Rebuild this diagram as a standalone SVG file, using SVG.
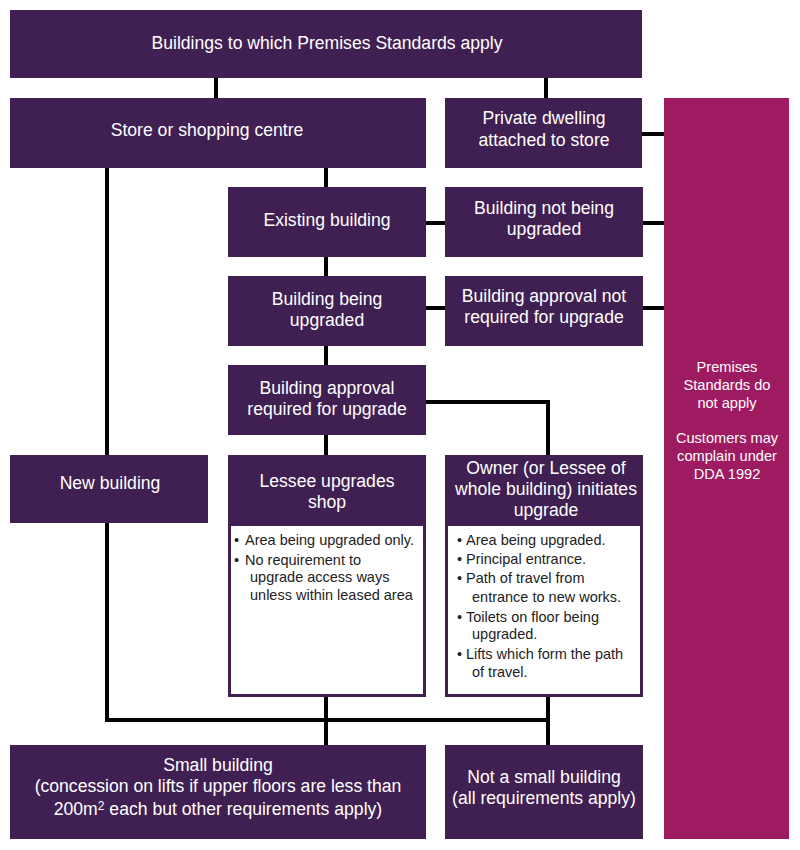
<svg xmlns="http://www.w3.org/2000/svg" width="800" height="850" viewBox="0 0 800 850">
<style>
.n{fill:#401f53}
.m{fill:#9e1b61}
.t{font-family:"Liberation Sans",Arial,sans-serif;font-size:17.6px;fill:#fff;text-anchor:middle}
.s{font-family:"Liberation Sans",Arial,sans-serif;font-size:14.6px;fill:#fff;text-anchor:middle}
.b{font-family:"Liberation Sans",Arial,sans-serif;font-size:14.5px;fill:#222}
.c{fill:none;stroke:#000;stroke-width:4}
</style>
<rect width="800" height="850" fill="#fff"/>
<g id="connectors">
<path class="c" d="M216 78V98M546 78V98M642 134H664M326 167V187M426 223H445M642 223H664M326 257V276M426 308H445M642 308H664M326 346V365M426 402H548V455M326 435V455M107 167V720H548M326 697V745M548 697V745"/>
</g>
<g id="top"><rect class="n" x="10" y="10" width="632" height="68"/><text class="t" x="327" y="49">Buildings to which Premises Standards apply</text></g>
<g id="store"><rect class="n" x="10" y="98" width="416" height="70"/><text class="t" x="207" y="136">Store or shopping centre</text></g>
<g id="private"><rect class="n" x="445" y="98" width="197" height="70"/><text class="t" x="544" y="124">Private dwelling</text><text class="t" x="544" y="146">attached to store</text></g>
<g id="notapply"><rect class="m" x="664" y="98" width="125" height="741"/>
<text class="s" x="727" y="372">Premises</text><text class="s" x="727" y="390">Standards do</text><text class="s" x="727" y="408">not apply</text>
<text class="s" x="727" y="443">Customers may</text><text class="s" x="727" y="461">complain under</text><text class="s" x="727" y="479">DDA 1992</text></g>
<g id="existing"><rect class="n" x="228" y="187" width="198" height="70"/><text class="t" x="327" y="226">Existing building</text></g>
<g id="notupgraded"><rect class="n" x="445" y="187" width="198" height="70"/><text class="t" x="544" y="214">Building not being</text><text class="t" x="544" y="235">upgraded</text></g>
<g id="upgraded"><rect class="n" x="228" y="276" width="198" height="70"/><text class="t" x="327" y="305">Building being</text><text class="t" x="327" y="326">upgraded</text></g>
<g id="approvalnot"><rect class="n" x="445" y="276" width="198" height="70"/><text class="t" x="544" y="302">Building approval not</text><text class="t" x="544" y="323">required for upgrade</text></g>
<g id="approval"><rect class="n" x="228" y="365" width="198" height="70"/><text class="t" x="327" y="394">Building approval</text><text class="t" x="327" y="415">required for upgrade</text></g>
<g id="newbuilding"><rect class="n" x="10" y="455" width="198" height="68"/><text class="t" x="110" y="489">New building</text></g>
<g id="lessee"><rect class="n" x="228" y="455" width="198" height="242"/><rect x="231" y="526" width="192" height="168" fill="#fff"/>
<text class="t" x="327" y="487">Lessee upgrades</text><text class="t" x="327" y="508">shop</text>
<text class="b" x="234" y="545">•</text><text class="b" x="245" y="545">Area being upgraded only.</text>
<text class="b" x="234" y="565">•</text><text class="b" x="245" y="565">No requirement to</text>
<text class="b" x="250" y="582">upgrade access ways</text><text class="b" x="250" y="600">unless within leased area</text></g>
<g id="owner"><rect class="n" x="445" y="455" width="198" height="242"/><rect x="448" y="526" width="192" height="168" fill="#fff"/>
<text class="t" x="546" y="474">Owner (or Lessee of</text><text class="t" x="546" y="495">whole building) initiates</text><text class="t" x="546" y="516">upgrade</text>
<text class="b" x="457" y="545">•</text><text class="b" x="466" y="545">Area being upgraded.</text>
<text class="b" x="457" y="564">•</text><text class="b" x="466" y="564">Principal entrance.</text>
<text class="b" x="457" y="583">•</text><text class="b" x="466" y="583">Path of travel from</text>
<text class="b" x="472" y="602">entrance to new works.</text>
<text class="b" x="457" y="622">•</text><text class="b" x="466" y="622">Toilets on floor being</text>
<text class="b" x="472" y="639">upgraded.</text>
<text class="b" x="457" y="659">•</text><text class="b" x="466" y="659">Lifts which form the path</text>
<text class="b" x="472" y="677">of travel.</text></g>
<g id="small"><rect class="n" x="10" y="745" width="416" height="94"/>
<text class="t" x="218" y="771">Small building</text>
<text class="t" x="218" y="792">(concession on lifts if upper floors are less than</text>
<text class="t" x="218" y="815">200m<tspan dy="-5" font-size="12">2</tspan><tspan dy="5"> each but other requirements apply)</tspan></text></g>
<g id="notsmall"><rect class="n" x="445" y="745" width="198" height="94"/><text class="t" x="544" y="783">Not a small building</text><text class="t" x="544" y="804">(all requirements apply)</text></g>
</svg>
